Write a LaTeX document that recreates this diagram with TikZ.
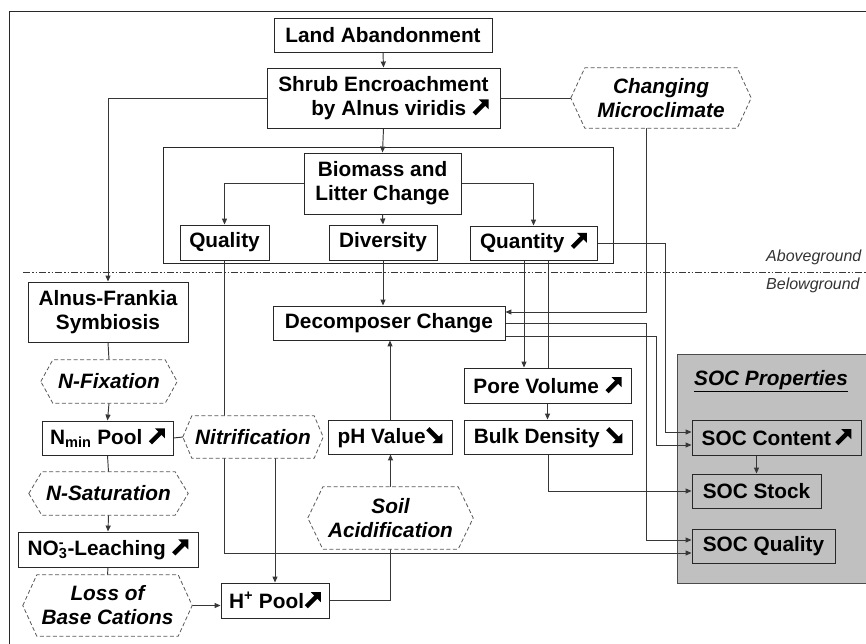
\documentclass[tikz,border=0pt]{standalone}
\usepackage{fontspec}
\setmainfont{Liberation Sans}
\usetikzlibrary{arrows.meta,calc}
\pgfdeclarelayer{back}
\pgfdeclarelayer{conn}
\pgfsetlayers{back,conn,main}
\definecolor{ln}{RGB}{55,55,55}
\definecolor{bx}{RGB}{40,40,40}
\definecolor{socgray}{RGB}{192,192,192}
\newcommand\arrNE{\tikz[baseline=0pt,x=1pt,y=1pt]{\fill (16,16)--(6,16)--(16,6)--cycle;\draw[line width=4.5pt](1.5,1.5)--(12,12);}}
\newcommand\arrSE{\tikz[baseline=0pt,x=1pt,y=1pt]{\fill (16,0)--(6,0)--(16,10)--cycle;\draw[line width=4.5pt](1.5,14.5)--(12,4);}}
\newcommand\hexbox[6]{%
  \node[hexshape, minimum width=#3, minimum height=#4] (#1) at (#2) {};
  \draw[hexline] (#1.west) -- ([xshift=#5]#1.north west) -- ([xshift=-#5]#1.north east) -- (#1.east) -- ([xshift=-#5]#1.south east) -- ([xshift=#5]#1.south west) -- cycle;
  \node[hextext] (#1-t) at (#1.center) {#6};}
\begin{document}
\begin{tikzpicture}[x=1pt,y=-1pt,
  rbox/.style={draw=bx, fill=white, line width=0.9pt, inner sep=0pt, align=center,
    font=\bfseries\fontsize{20.8}{24}\selectfont},
  socbox/.style={rbox, fill=socgray},
  hexshape/.style={rectangle, inner sep=0pt, draw=none},
  hexline/.style={draw=black!65, fill=white, line width=0.8pt, dash pattern=on 4pt off 2.5pt},
  hextext/.style={inner sep=0pt, align=center, font=\bfseries\itshape\fontsize{20.8}{24}\selectfont},
  con/.style={draw=ln, line width=0.95pt},
  arr/.style={con, -{Triangle[length=6pt,width=5pt]}},
  lbl/.style={anchor=west, inner sep=0pt, text=black!80, font=\itshape\fontsize{16}{18}\selectfont}]
\useasboundingbox (0,0) rectangle (866,643);

% frame, containers
\begin{pgfonlayer}{back}
  \draw[draw=bx, line width=1pt] (9,645) -- (9,11) -- (868,11);
  \draw[draw=bx, line width=1pt] (163,147) rectangle (613,263);
  \draw[draw=black!70, fill=socgray, line width=1pt] (677,354) rectangle (870,583);
\end{pgfonlayer}

% nodes
\node[rbox, minimum width=218pt, minimum height=34pt] (land) at (383,35) {Land Abandonment};
\node[rbox, minimum width=233pt, minimum height=60pt, align=right] (shrub) at (383.5,98) {Shrub Encroachment\\by Alnus viridis \arrNE};
\hexbox{micro}{661,98}{180pt}{60pt}{14pt}{Changing\\Microclimate}
\node[rbox, minimum width=157pt, minimum height=61pt] (bio) at (382.5,183.5) {Biomass and\\Litter Change};
\node[rbox, minimum width=89pt, minimum height=35pt] (qual) at (224.5,242.5) {Quality};
\node[rbox, minimum width=108pt, minimum height=35pt] (div) at (383,242.5) {Diversity};
\node[rbox, minimum width=127pt, minimum height=34pt] (quant) at (533.5,243) {Quantity \arrNE};
\node[rbox, minimum width=160pt, minimum height=60pt] (alnus) at (108,312) {Alnus-Frankia\\Symbiosis};
\node[rbox, minimum width=232pt, minimum height=34pt] (dec) at (389,323) {Decomposer Change};
\hexbox{nfix}{109,381.5}{136pt}{43pt}{12pt}{N-Fixation}
\node[rbox, minimum width=167pt, minimum height=35pt] (pore) at (547.5,385.5) {Pore Volume \arrNE};
\node[rbox, minimum width=131pt, minimum height=34pt] (nmin) at (107.5,438) {N\textsubscript{min} Pool \arrNE};
\hexbox{nitri}{253,437}{140pt}{42pt}{9pt}{Nitrification}
\node[rbox, minimum width=124pt, minimum height=34pt] (ph) at (390,437) {pH Value\arrSE};
\node[rbox, minimum width=168pt, minimum height=34pt] (bulk) at (548,437) {Bulk Density \arrSE};
\hexbox{nsat}{108.5,493.5}{159pt}{43pt}{13pt}{N-Saturation}
\node[rbox, minimum width=180pt, minimum height=35pt] (no3) at (108,549.5) {NO\rlap{\textsuperscript{-}}\textsubscript{3}-Leaching \arrNE};
\hexbox{soil}{390.5,518}{165pt}{62pt}{15pt}{Soil\\Acidification}
\hexbox{loss}{107.5,605.5}{169pt}{61pt}{14pt}{Loss of\\Base Cations}
\node[rbox, minimum width=108pt, minimum height=35pt] (hp) at (275,600.5) {H\textsuperscript{+} Pool\arrNE};

\node[inner sep=0pt, font=\bfseries\itshape\fontsize{20.8}{24}\selectfont] (socp) at (771,381) {\underline{SOC Properties}};
\node[socbox, minimum width=169pt, minimum height=35pt] (socc) at (776.5,437.5) {SOC Content\,\arrNE};
\node[socbox, minimum width=129pt, minimum height=34pt] (socs) at (756.5,491) {SOC Stock};
\node[socbox, minimum width=143pt, minimum height=34pt] (socq) at (763.5,546) {SOC Quality};

\node[lbl] (above) at (766,257) {Aboveground};
\node[lbl] (below) at (766,285) {Belowground};

% connectors
\begin{pgfonlayer}{conn}
  \draw[draw=ln, line width=0.9pt, dash pattern=on 7pt off 2pt on 1.5pt off 2pt on 1.5pt off 2pt] (23,272) -- (868,272);
  \draw[arr] (land.south) -- (shrub.north);
  \draw[arr] (shrub.west) -| (alnus.north);
  \draw[con] (shrub.east) -- (micro.west);
  \draw[arr] (shrub.south) -- (bio.north);
  \draw[arr] (bio.west) -| (qual.north);
  \draw[arr] (bio.south) -- (div.north);
  \draw[arr] (bio.east) -| (quant.north);
  \draw[arr] (div.south) -- (div.south |- dec.north);
  \draw[arr] ([xshift=-15pt]micro.south) |- ([yshift=11pt]dec.east);
  \coordinate (q1) at ([xshift=-9.5pt]quant.south);
  \coordinate (q2) at ([xshift=14.5pt]quant.south);
  \draw[arr] (q1) -- (q1 |- pore.north);
  \draw[con] (q2) -- (q2 |- pore.north);
  \draw[arr] (pore.south) -- (pore.south |- bulk.north);
  \draw[arr] (bulk.south) |- (socs.west);
  \draw[arr] (quant.east) -- ++(68,0) |- ([yshift=5.5pt]socc.west);
  \draw[arr] (dec.east) -- ++(141,0) |- ([yshift=6pt]socq.west);
  \draw[arr] ([yshift=-13pt]dec.east) -- ++(151,0) |- ([yshift=-7.5pt]socc.west);
  \draw[arr] (qual.south) |- ([yshift=-7pt]socq.west);
  \draw[arr] (ph.north) -- (ph.north |- dec.south);
  \draw[arr] (soil.north) -- (soil.north |- ph.south);
  \draw[con] (hp.east) -| (soil.south);
  \draw[arr] (loss.east) -- (loss.east -| hp.west);
  \draw[arr] (hp.north |- nitri.south) -- (hp.north);
  \draw[con] (nmin.east) -- (nitri.west);
  \draw[con] (alnus.south) -- (nfix.north);
  \draw[arr] (nfix.south) -- (nmin.north);
  \draw[con] (nmin.south) -- (nsat.north);
  \draw[arr] (nsat.south) -- (no3.north);
  \draw[con] (no3.south) -- (loss.north);
  \draw[arr] (socs.north |- socc.south) -- (socs.north);
\end{pgfonlayer}
\end{tikzpicture}
\end{document}
